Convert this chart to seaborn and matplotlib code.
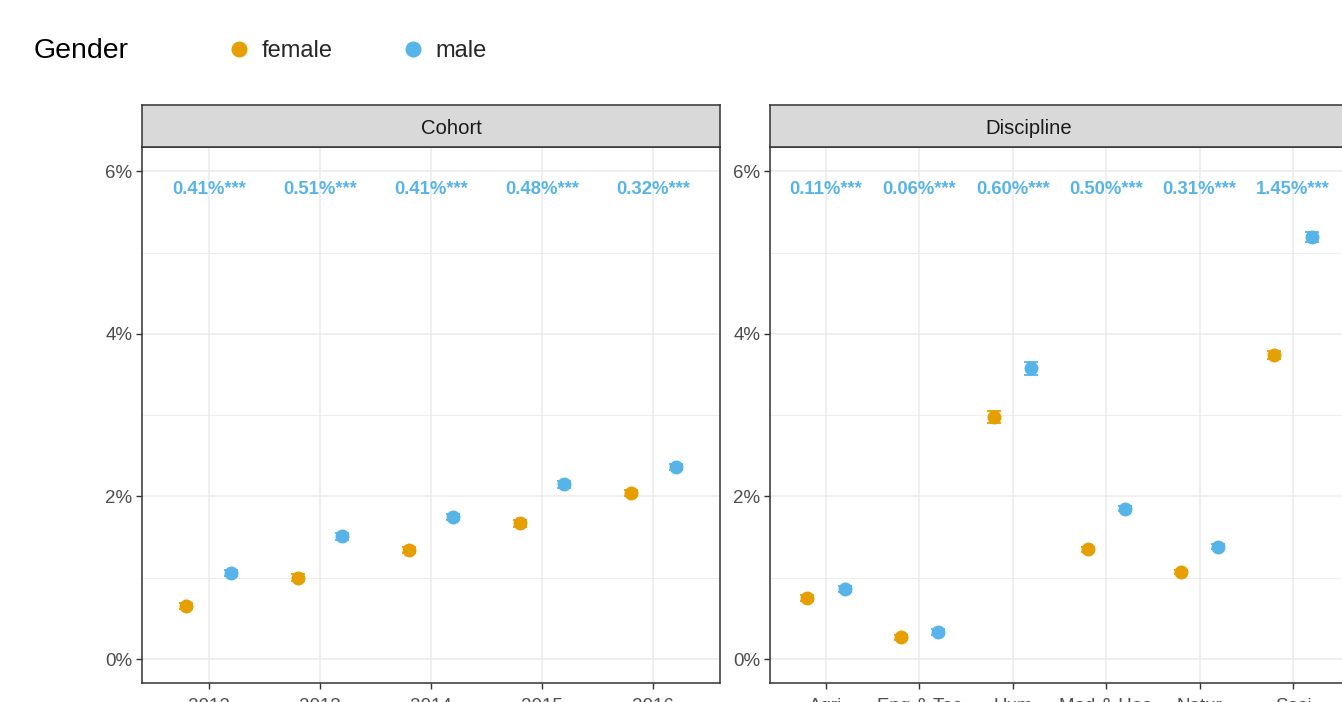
import matplotlib as mpl
mpl.use('Agg')
import matplotlib.pyplot as plt
from matplotlib.lines import Line2D
from matplotlib.ticker import FuncFormatter, MultipleLocator
import seaborn as sns
import pandas as pd
import numpy as np

# data (percent)
COHORTS = ["2012", "2013", "2014", "2015", "2016"]
COHORT_FEMALE = [0.65, 1.00, 1.34, 1.67, 2.04]
COHORT_MALE = [1.06, 1.51, 1.75, 2.15, 2.36]
COHORT_FEMALE_ERR = [0.04, 0.04, 0.04, 0.04, 0.04]
COHORT_MALE_ERR = [0.04, 0.04, 0.04, 0.04, 0.04]
COHORT_LABELS = ["0.41%***", "0.51%***", "0.41%***", "0.48%***", "0.32%***"]

DISCIPLINES = ["Agri", "Eng & Tec", "Hum", "Med & Hea", "Natur", "Soci"]
DISC_FEMALE = [0.75, 0.27, 2.98, 1.35, 1.07, 3.74]
DISC_MALE = [0.86, 0.33, 3.58, 1.85, 1.38, 5.19]
DISC_FEMALE_ERR = [0.04, 0.03, 0.07, 0.03, 0.03, 0.05]
DISC_MALE_ERR = [0.04, 0.04, 0.08, 0.03, 0.03, 0.06]
DISC_LABELS = ["0.11%***", "0.06%***", "0.60%***", "0.50%***", "0.31%***", "1.45%***"]

GENDERS = ["female", "male"]
COLORS = {"female": "#E69F00", "male": "#56B4E9"}


def set_rc_params():
    sns.set_style("white")
    mpl.rcParams['font.family'] = ['Liberation Sans', 'DejaVu Sans']
    mpl.rcParams['xtick.labelsize'] = 13.5
    mpl.rcParams['ytick.labelsize'] = 13.5


def draw_panel(fig, rect, cats, female, male, ferr, merr, labels, title, title_x):
    ax = fig.add_axes(rect)
    df = pd.DataFrame({
        "cat": cats * 2,
        "value": female + male,
        "gender": ["female"] * len(cats) + ["male"] * len(cats),
    })
    sns.pointplot(data=df, x="cat", y="value", hue="gender", order=cats,
                  hue_order=GENDERS, palette=COLORS, dodge=0.4,
                  linestyle="none", errorbar=None, markers="o",
                  markersize=8, legend=False, ax=ax)
    idx = np.arange(len(cats))
    for off, vals, errs, g in [(-0.2, female, ferr, "female"),
                               (0.2, male, merr, "male")]:
        ax.errorbar(idx + off, vals, yerr=errs, fmt="none",
                    ecolor=COLORS[g], elinewidth=1.3, capsize=5.2,
                    capthick=1.3, zorder=5)
    for i, lab in enumerate(labels):
        ax.text(i, 5.78, lab, ha="center", va="center", fontsize=13.3,
                fontweight="bold", color=COLORS["male"])

    ax.set_xlim(-0.6, len(cats) - 1 + 0.6)
    ax.set_ylim(-0.295, 6.30)
    ax.yaxis.set_major_locator(MultipleLocator(2))
    ax.yaxis.set_minor_locator(MultipleLocator(1))
    ax.yaxis.set_major_formatter(FuncFormatter(lambda v, p: f"{v:.0f}%"))
    ax.set_axisbelow(True)
    ax.grid(True, which="major", color="#EBEBEB", linewidth=1.1)
    ax.grid(True, which="minor", axis="y", color="#EBEBEB", linewidth=0.6)
    ax.tick_params(axis="both", which="major", length=4, width=1,
                   color="#333333", labelcolor="#4D4D4D", pad=3,
                   left=True, bottom=True)
    ax.tick_params(axis="y", which="minor", length=0)
    ax.tick_params(axis="x", pad=7)
    ax.set_xlabel("")
    ax.set_ylabel("")
    for s in ax.spines.values():
        s.set_color("#333333")
        s.set_linewidth(1.1)

    # facet strip
    sx = fig.add_axes([rect[0], rect[1] + rect[3], rect[2], 42 / 702])
    sx.set_facecolor("#D9D9D9")
    sx.set_xticks([])
    sx.set_yticks([])
    for s in sx.spines.values():
        s.set_color("#333333")
        s.set_linewidth(1.1)
    sx.text(title_x, 0.44, title, ha="center", va="center", fontsize=14.6,
            color="#1A1A1A", transform=sx.transAxes)
    return ax


def plot_figure(output_file="out.png"):
    set_rc_params()
    fig = plt.figure(figsize=(13.42, 7.02), dpi=100)

    bottom = 1 - 683 / 702
    height = (683 - 147) / 702
    draw_panel(fig, [142 / 1342, bottom, 578 / 1342, height], COHORTS,
               COHORT_FEMALE, COHORT_MALE, COHORT_FEMALE_ERR, COHORT_MALE_ERR,
               COHORT_LABELS, "Cohort", 0.536)
    draw_panel(fig, [770 / 1342, bottom, 579 / 1342, height], DISCIPLINES,
               DISC_FEMALE, DISC_MALE, DISC_FEMALE_ERR, DISC_MALE_ERR,
               DISC_LABELS, "Discipline", 0.447)

    # legend
    fig.text(34 / 1342, 1 - 51 / 702, "Gender", ha="left", va="center",
             fontsize=20.5, color="black")
    handles = [Line2D([], [], linestyle="none", marker="o", markersize=10.5,
                      color=COLORS[g]) for g in GENDERS]
    fig.legend(handles, GENDERS, loc="center left",
               bbox_to_anchor=(227 / 1342, 1 - 51 / 702), frameon=False,
               ncol=2, fontsize=17, handlelength=1, handletextpad=0.48,
               columnspacing=2.88, borderaxespad=0, borderpad=0)

    fig.savefig(output_file, dpi=100)


plot_figure()
